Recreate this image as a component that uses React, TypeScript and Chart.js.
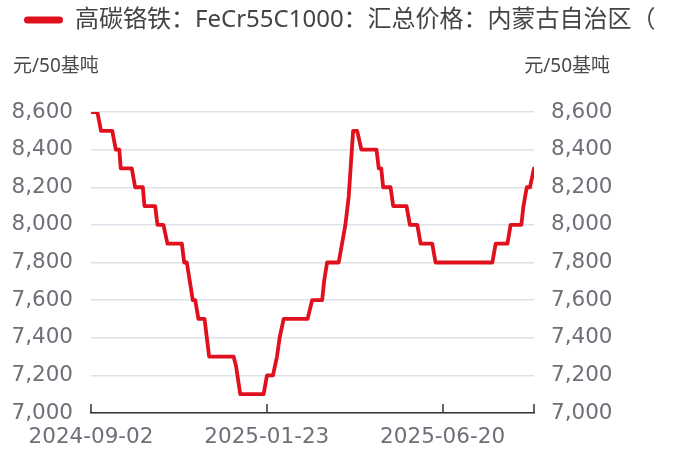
import React, { useEffect, useRef } from "react";
import { Chart, registerables, layouts } from "chart.js";

Chart.register(...registerables);

// x = trading-day index since 2024-09-02, y = price (元/50基吨)
const dayIndex = [
  0, 3.6, 5.7, 12.1, 14.1, 16.1, 16.9, 23.2, 25.1, 29.5, 30.4, 36.5, 37.8, 41.2,
  43.5, 51.7, 53.0, 54.5, 56.2, 57.9, 59.3, 61.1, 64.6, 67.2, 81.1, 82.5, 84.9,
  98.2, 100.1, 103.5, 105.8, 107.3, 109.6, 123.2, 125.8, 131.5, 132.6, 134.3,
  140.9, 144.7, 146.6, 149.1, 151.4, 153.8, 162.4, 163.7, 165.1, 166.2, 170.4,
  171.9, 179.5, 181.4, 185.6, 187.5, 194.1, 196.0, 228.3, 230.2, 236.9, 238.7,
  244.8, 246.0, 247.9, 249.7, 252,
];
const prices = [
  8600, 8600, 8500, 8500, 8400, 8400, 8300, 8300, 8200, 8200, 8100, 8100, 8000, 8000,
  7900, 7900, 7800, 7800, 7700, 7600, 7600, 7500, 7500, 7300, 7300, 7250, 7100,
  7100, 7200, 7200, 7300, 7400, 7500, 7500, 7600, 7600, 7700, 7800,
  7800, 8000, 8150, 8500, 8500, 8400, 8400, 8300, 8300, 8200, 8200,
  8100, 8100, 8000, 8000, 7900, 7900, 7800, 7800, 7900, 7900, 8000,
  8000, 8100, 8200, 8200, 8300,
];
const xTickPositions = [0, 100, 200];
const xTickLabels = ["2024-09-02", "2025-01-23", "2025-06-20"];
const xEnd = 252;
const yMin = 7000;
const yMax = 8600;
const yStep = 200;
const seriesName = "高碳铬铁：FeCr55C1000：汇总价格：内蒙古自治区（";
const unitLabel = "元/50基吨";

const RED = "#e0101c";
const TICK_FONT = { family: "'DejaVu Sans', 'Noto Sans CJK SC', sans-serif", size: 21.5 };
const CJK_FONT = "'Noto Sans', 'Noto Sans CJK SC', sans-serif";

const unitBoxPlugin = {
  id: "unitBox",
  beforeInit(chart: any) {
    const box: any = {
      position: "top",
      weight: 500,
      fullSize: true,
      options: {},
      top: 0, left: 0, right: 0, bottom: 0, width: 0, height: 0,
      isHorizontal() { return true; },
      update(maxWidth: number) { this.width = maxWidth; this.height = 70; },
      draw() {
        const ctx = chart.ctx;
        const yL = chart.scales.yL;
        const yR = chart.scales.yR;
        ctx.save();
        ctx.font = `19px ${CJK_FONT}`;
        ctx.fillStyle = "#4a4a4a";
        ctx.textBaseline = "middle";
        const cy = this.top + 25;
        ctx.textAlign = "left";
        ctx.fillText(unitLabel, yL.left + 1, cy);
        ctx.textAlign = "right";
        ctx.fillText(unitLabel, yR.left + 76, cy);
        ctx.restore();
      },
    };
    layouts.addBox(chart, box);
  },
};

const xTickMarkPlugin = {
  id: "xTickMarks",
  afterDraw(chart: any) {
    const xs = chart.scales.x;
    const ctx = chart.ctx;
    ctx.save();
    ctx.strokeStyle = "#333";
    ctx.lineWidth = 1.5;
    xs.ticks.forEach((t: any) => {
      const px = Math.round(xs.getPixelForValue(t.value));
      ctx.beginPath();
      ctx.moveTo(px, xs.top);
      ctx.lineTo(px, xs.top - 9);
      ctx.stroke();
    });
    ctx.restore();
  },
};

export default function App() {
  const ref = useRef<HTMLCanvasElement | null>(null);
  useEffect(() => {
    document.body.style.margin = "0";
    if (!ref.current) return;
    const chart = new Chart(ref.current, {
      type: "line",
      data: {
        datasets: [
          {
            label: seriesName,
            data: dayIndex.map((x, i) => ({ x, y: prices[i] })),
            borderColor: RED,
            backgroundColor: RED,
            borderWidth: 3.8,
            pointRadius: 0,
            tension: 0,
            borderJoinStyle: "round",
            borderCapStyle: "round",
            yAxisID: "yL",
          },
        ],
      },
      options: {
        animation: false,
        responsive: false,
        layout: { padding: { left: 12, right: 0, top: -4, bottom: 1 } },
        plugins: {
          tooltip: { enabled: false },
          legend: {
            position: "top",
            align: "start",
            labels: {
              boxWidth: 39,
              boxHeight: 7,
              padding: 12,
              color: "#444",
              font: { family: CJK_FONT, size: 24 },
              generateLabels: (c: any) =>
                (Chart.defaults.plugins.legend.labels.generateLabels as any)(c).map((it: any) => ({
                  ...it,
                  lineWidth: 0,
                  fillStyle: RED,
                  borderRadius: 3.5,
                })),
            },
          },
        },
        scales: {
          x: {
            type: "linear",
            min: 0,
            max: xEnd,
            grid: { display: false, drawTicks: false },
            border: { display: true, color: "#333", width: 1.5 },
            afterBuildTicks: (scale: any) => {
              scale.ticks = [...xTickPositions, xEnd].map((v) => ({ value: v }));
            },
            afterFit: (scale: any) => {
              scale.height = 39;
            },
            ticks: {
              autoSkip: false,
              maxRotation: 0,
              padding: 12,
              color: "#6e7079",
              font: TICK_FONT,
              callback: (v: any) => {
                const i = xTickPositions.indexOf(Number(v));
                return i >= 0 ? xTickLabels[i] : "";
              },
            },
          },
          yL: {
            type: "linear",
            position: "left",
            min: yMin,
            max: yMax,
            grid: { color: "#dde1ea", lineWidth: 1.5, drawTicks: false },
            border: { display: false },
            afterFit: (scale: any) => {
              scale.width = 79;
            },
            ticks: {
              stepSize: yStep,
              padding: 18,
              color: "#6e7079",
              font: TICK_FONT,
              callback: (v: any) => Number(v).toLocaleString("en-US"),
            },
          },
          yR: {
            type: "linear",
            position: "right",
            min: yMin,
            max: yMax,
            grid: { display: false, drawTicks: false },
            border: { display: false },
            afterFit: (scale: any) => {
              scale.width = 141;
            },
            ticks: {
              stepSize: yStep,
              padding: 17,
              color: "#6e7079",
              font: TICK_FONT,
              callback: (v: any) => Number(v).toLocaleString("en-US"),
            },
          },
        },
      } as any,
      plugins: [unitBoxPlugin, xTickMarkPlugin],
    });
    return () => chart.destroy();
  }, []);
  return (
    <div style={{ width: 675, height: 453 }}>
      <canvas ref={ref} width={675} height={453} style={{ display: "block" }} />
    </div>
  );
}
